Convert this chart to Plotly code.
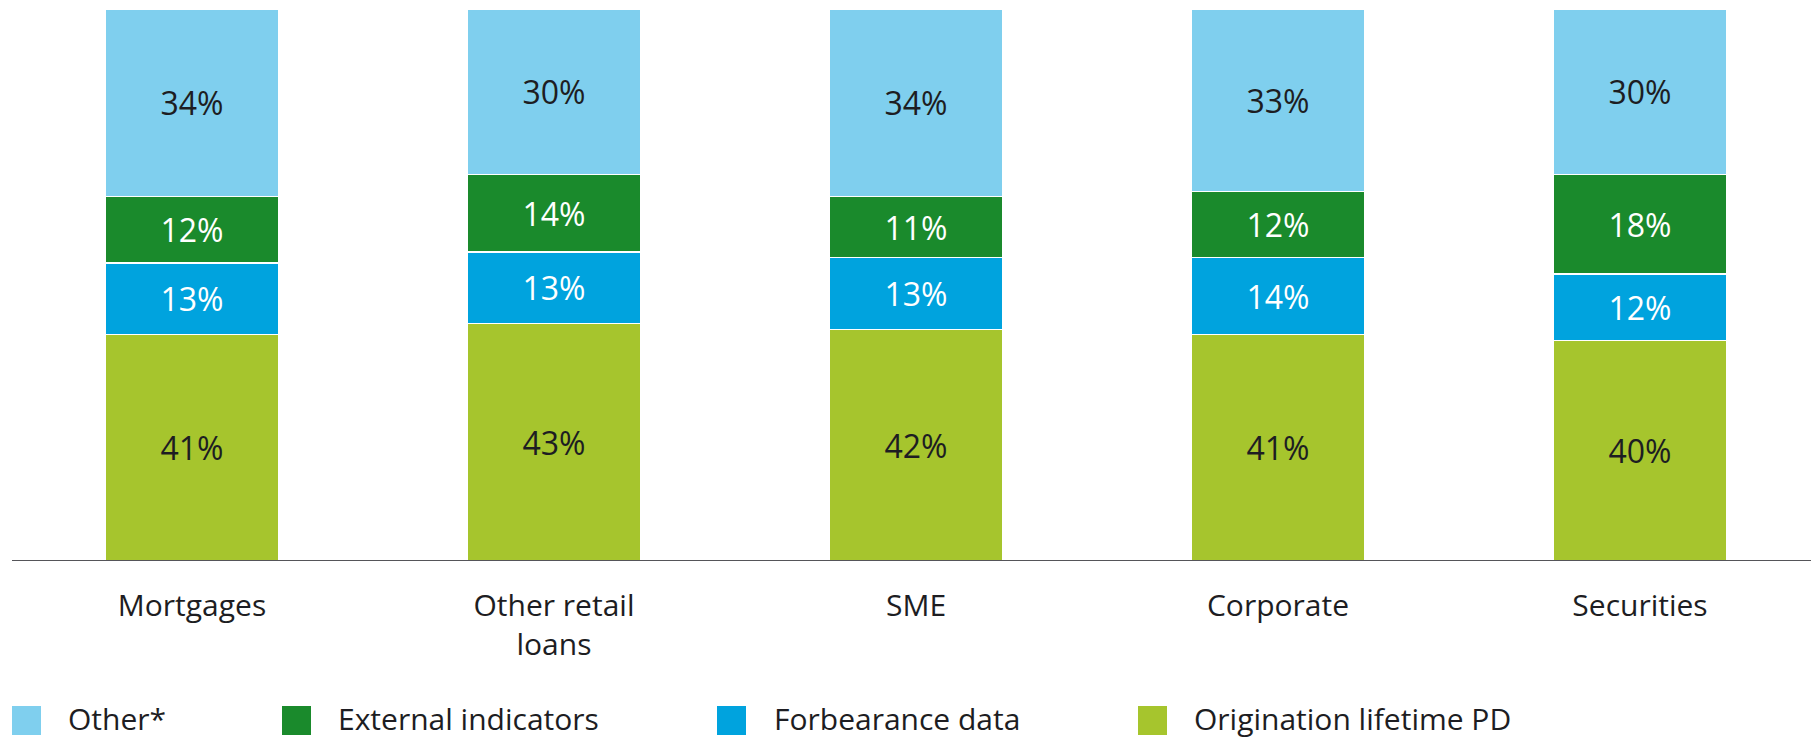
import plotly.graph_objects as go

# Categories and stacked shares (%)
categories = ["Mortgages", "Other retail<br>loans", "SME", "Corporate", "Securities"]
origination_pd = [41, 43, 42, 41, 40]
forbearance = [13, 13, 13, 14, 12]
external = [12, 14, 11, 12, 18]
other = [34, 30, 34, 33, 30]

C_OTHER = "#7FCFEE"
C_EXT = "#1A8A2C"
C_FORB = "#00A3DE"
C_ORIG = "#A6C52D"
DARK = "#1D1D22"
FONT = "Open Sans, Liberation Sans, sans-serif"

W, H = 1811, 738
ML, MR, MT, MB = 11, 0, 9, 177
PW, PH = W - ML - MR, H - MT - MB
UNIT = 362.0  # pixels per category

fig = go.Figure()

stack = [
    ("Origination lifetime PD", origination_pd, C_ORIG, DARK),
    ("Forbearance data", forbearance, C_FORB, "#FFFFFF"),
    ("External indicators", external, C_EXT, "#FFFFFF"),
    ("Other*", other, C_OTHER, DARK),
]
for name, vals, col, tcol in stack:
    fig.add_trace(go.Bar(
        x=categories, y=vals, name=name,
        marker=dict(color=col, line=dict(color="#FFFFFF", width=1.3)),
        width=0.478,
        text=[f"{v}%" for v in vals],
        textposition="inside", insidetextanchor="middle",
        textfont=dict(family=FONT, size=32, color=tcol),
        showlegend=False, hoverinfo="skip",
    ))

# Legend drawn as swatches and labels beneath the axis
legend_items = [
    ("Other*", C_OTHER, 12, 68),
    ("External indicators", C_EXT, 282, 338),
    ("Forbearance data", C_FORB, 717, 774),
    ("Origination lifetime PD", C_ORIG, 1138, 1194),
]

def px_x(p):
    return (p - ML) / PW

def px_y(p):
    return (H - MB - p) / PH

shapes = []
annotations = []
for label, col, sx, tx in legend_items:
    shapes.append(dict(type="rect", xref="paper", yref="paper",
                       x0=px_x(sx), x1=px_x(sx + 29), y0=px_y(735), y1=px_y(706),
                       fillcolor=col, line=dict(width=0)))
    annotations.append(dict(text=label, xref="paper", yref="paper",
                            x=px_x(tx - 2), y=px_y(718.5), xanchor="left", yanchor="middle",
                            showarrow=False, font=dict(family=FONT, size=30, color=DARK)))

# Baseline axis line, extending to the left edge
shapes.append(dict(type="line", xref="paper", yref="y", x0=px_x(12), x1=1, y0=0, y1=0,
                   line=dict(color="#555559", width=2)))

fig.update_layout(
    width=W, height=H,
    margin=dict(l=ML, r=MR, t=MT, b=MB, pad=0),
    barmode="stack",
    plot_bgcolor="#FFFFFF", paper_bgcolor="#FFFFFF",
    shapes=shapes, annotations=annotations,
    xaxis=dict(range=[-0.5, -0.5 + PW / UNIT], showgrid=False, zeroline=False,
               showline=False, ticks="", ticklabelstandoff=24,
               tickfont=dict(family=FONT, size=30, color=DARK)),
    yaxis=dict(range=[0, 100], visible=False, showgrid=False, zeroline=False),
)

fig.write_html("out.html")
